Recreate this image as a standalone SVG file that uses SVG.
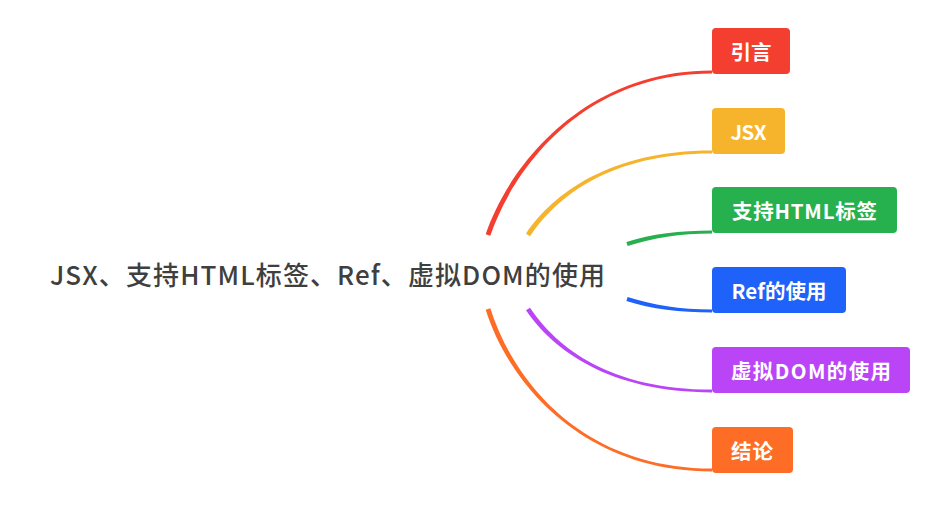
<svg xmlns="http://www.w3.org/2000/svg" width="940" height="510" viewBox="0 0 940 510">
<style>
  text { font-family: "Noto Sans CJK SC", "Noto Sans", "Liberation Sans", sans-serif; }
  .root { font-size: 26px; fill: #3f3f3f; font-weight: 500; }
  .lbl { font-size: 20.5px; fill: #ffffff; font-weight: 700; text-anchor: middle; }
  .box { stroke: none; }
</style>
<rect width="940" height="510" fill="#ffffff"/>
<g id="connectors">
  <path fill="#F43F30" d="M490.3,235.8 C514.3,165.8 585,73.4 712,73.4 L712,70.6 C585,70.6 509.7,164.2 485.7,234.2 Z"/>
  <path fill="#F6B42C" d="M530,236.3 C557,196.3 610,153.4 712,153.4 L712,150.6 C610,150.6 553,193.7 526,233.7 Z"/>
  <path fill="#27B04E" d="M627.6,245.9 C652.6,237.9 680,233.4 712,233.4 L712,230.6 C680,230.6 651.4,234.1 626.4,242.1 Z"/>
  <path fill="#1E62FA" d="M626.4,300.9 C651.4,308.9 680,312.4 712,312.4 L712,309.6 C680,309.6 652.6,305.1 627.6,297.1 Z"/>
  <path fill="#BA45F6" d="M526,310.3 C553,350.3 610,392.4 712,392.4 L712,389.6 C610,389.6 557,347.7 530,307.7 Z"/>
  <path fill="#FD6D26" d="M485.7,309.8 C509.7,385.8 585,471.4 712,471.4 L712,468.6 C585,468.6 514.3,384.2 490.3,308.2 Z"/>
</g>
<g id="root">
  <text class="root" x="50" y="273" dominant-baseline="central" textLength="555" lengthAdjust="spacing">JSX、支持HTML标签、Ref、虚拟DOM的使用</text>
</g>
<g id="node-yinyan">
  <rect class="box" x="712" y="28" width="78" height="46" rx="4" fill="#F43F30"/>
  <text class="lbl" x="751" y="51" dominant-baseline="central" textLength="41" lengthAdjust="spacing">引言</text>
</g>
<g id="node-jsx">
  <rect class="box" x="712" y="108" width="73" height="46" rx="4" fill="#F6B42C"/>
  <text class="lbl" x="748.5" y="131" dominant-baseline="central" textLength="36" lengthAdjust="spacing">JSX</text>
</g>
<g id="node-html">
  <rect class="box" x="712" y="187" width="185" height="46" rx="4" fill="#27B04E"/>
  <text class="lbl" x="804.5" y="210" dominant-baseline="central" textLength="145" lengthAdjust="spacing">支持HTML标签</text>
</g>
<g id="node-ref">
  <rect class="box" x="712" y="267" width="134" height="46" rx="4" fill="#1E62FA"/>
  <text class="lbl" x="779" y="290" dominant-baseline="central" textLength="95" lengthAdjust="spacing">Ref的使用</text>
</g>
<g id="node-vdom">
  <rect class="box" x="712" y="347" width="198" height="46" rx="4" fill="#BA45F6"/>
  <text class="lbl" x="811" y="370" dominant-baseline="central" textLength="160" lengthAdjust="spacing">虚拟DOM的使用</text>
</g>
<g id="node-jielun">
  <rect class="box" x="712" y="427" width="81" height="46" rx="4" fill="#FD6D26"/>
  <text class="lbl" x="752" y="450" dominant-baseline="central" textLength="42" lengthAdjust="spacing">结论</text>
</g>
</svg>
